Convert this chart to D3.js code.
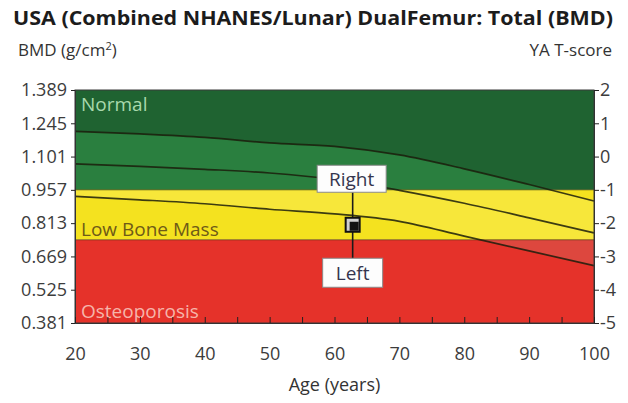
<!DOCTYPE html>
<html>
<head>
<meta charset="utf-8">
<script src="https://cdn.jsdelivr.net/npm/d3@7/dist/d3.min.js"></script>
<style>
  html, body { margin: 0; padding: 0; background: #fff; }
  svg { display: block; font-family: "Open Sans", "Noto Sans", sans-serif; }
</style>
</head>
<body>
<svg id="chart" width="628" height="403"></svg>
<script>
// Reference curves (BMD, g/cm²) by age: mean and ±1 SD
const ages       = [20, 30, 40, 50, 60, 70, 80, 90, 100];
const upperCurve = [1.210, 1.199, 1.184, 1.160, 1.145, 1.108, 1.048, 0.980, 0.909];
const meanCurve  = [1.069, 1.059, 1.046, 1.030, 1.002, 0.955, 0.899, 0.836, 0.771];
const lowerCurve = [0.929, 0.914, 0.897, 0.873, 0.853, 0.821, 0.757, 0.693, 0.629];

// Axis ticks
const bmdTicks = [1.389, 1.245, 1.101, 0.957, 0.813, 0.669, 0.525, 0.381];
const tScoreTicks = [2, 1, 0, -1, -2, -3, -4, -5];
const ageTicks = [20, 25, 30, 35, 40, 45, 50, 55, 60, 65, 70, 75, 80, 85, 90, 95, 100];

// Diagnostic zones in T-score units
const zoneNames  = ["Normal", "Low Bone Mass", "Osteoporosis"];
const zoneTopT   = [2, -1, -2.5];
const zoneBottomT = [-1, -2.5, -5];
const zoneFill   = ["#1f6331", "#f4e21f", "#e5322a"];
const zoneBand   = ["#2a7f3f", "#f7e73a", "#dd473e"];
const zoneText   = ["#a9d9ac", "#6e5a17", "#f6b5aa"];

// Measured point (mean of both femurs)
const pointAge = 62.8;
const pointBmd = 0.806;
const sideLabels = ["Right", "Left"];

const svg = d3.select("#chart");
const plot = { left: 75, right: 594, top: 90, bottom: 323 };

const x = d3.scaleLinear().domain([20, 100]).range([plot.left, plot.right]);
const y = d3.scaleLinear().domain([0.381, 1.389]).range([plot.bottom, plot.top]);
const yT = d3.scaleLinear().domain([-5, 2]).range([plot.bottom, plot.top]);

const defs = svg.append("defs");

// Zone backgrounds
const zoneG = svg.append("g");
zoneNames.forEach((name, i) => {
  zoneG.append("rect")
    .attr("x", plot.left)
    .attr("y", yT(zoneTopT[i]))
    .attr("width", plot.right - plot.left)
    .attr("height", yT(zoneBottomT[i]) - yT(zoneTopT[i]))
    .attr("fill", zoneFill[i]);
  defs.append("clipPath").attr("id", "zone" + i)
    .append("rect")
    .attr("x", plot.left)
    .attr("y", yT(zoneTopT[i]))
    .attr("width", plot.right - plot.left)
    .attr("height", yT(zoneBottomT[i]) - yT(zoneTopT[i]));
});

// ±1 SD band, tinted per zone
const rows = ages.map((a, i) => ({ age: a, up: upperCurve[i], mid: meanCurve[i], lo: lowerCurve[i] }));
const band = d3.area()
  .x(d => x(d.age))
  .y0(d => y(d.lo))
  .y1(d => y(d.up))
  .curve(d3.curveMonotoneX);
zoneNames.forEach((name, i) => {
  zoneG.append("path")
    .datum(rows)
    .attr("d", band)
    .attr("fill", zoneBand[i])
    .attr("clip-path", "url(#zone" + i + ")");
});

// Zone boundary hairlines
zoneG.selectAll("line.zb")
  .data([-1, -2.5])
  .join("line")
  .attr("x1", plot.left).attr("x2", plot.right)
  .attr("y1", d => yT(d)).attr("y2", d => yT(d))
  .attr("stroke", "#3a3a10").attr("stroke-opacity", 0.6).attr("stroke-width", 1);

// Reference curves
const curveLine = key => d3.line()
  .x(d => x(d.age))
  .y(d => y(d[key]))
  .curve(d3.curveMonotoneX);
["up", "mid", "lo"].forEach(k => {
  svg.append("path")
    .datum(rows)
    .attr("d", curveLine(k))
    .attr("fill", "none")
    .attr("stroke", "#1b1d0c")
    .attr("stroke-opacity", 0.85)
    .attr("stroke-width", 1.7);
});

// Zone labels
zoneNames.forEach((name, i) => {
  const yy = i === 0 ? yT(zoneTopT[i]) + 21 : (i === 1 ? yT(zoneBottomT[i]) - 4 : yT(zoneBottomT[i]) - 5);
  svg.append("text")
    .attr("x", plot.left + 6)
    .attr("y", yy)
    .attr("fill", zoneText[i])
    .attr("font-size", 19)
    .text(name);
});

// Frame
svg.append("rect")
  .attr("x", plot.left).attr("y", plot.top)
  .attr("width", plot.right - plot.left).attr("height", plot.bottom - plot.top)
  .attr("fill", "none").attr("stroke", "#3b3b3b").attr("stroke-width", 1);

// Axes
const axisText = "#3c3c3c";
const leftAxis = svg.append("g")
  .attr("transform", `translate(${plot.left},0)`)
  .call(d3.axisLeft(y).tickValues(bmdTicks).tickSize(4).tickPadding(4).tickFormat(d3.format(".3f")));
const rightAxis = svg.append("g")
  .attr("transform", `translate(${plot.right},0)`)
  .call(d3.axisRight(yT).tickValues(tScoreTicks).tickSize(5).tickPadding(1).tickFormat(d => d < 0 ? "-" + Math.abs(d) : String(d)));
const bottomAxis = svg.append("g")
  .attr("transform", `translate(0,${plot.bottom})`)
  .call(d3.axisBottom(x).tickValues(ageTicks).tickSize(-6).tickPadding(24)
    .tickFormat(d => d % 10 === 0 ? d : ""));
[leftAxis, rightAxis, bottomAxis].forEach(g => {
  g.select(".domain").attr("stroke", "#333");
  g.selectAll(".tick line").attr("stroke", "#222");
  g.selectAll(".tick text").attr("fill", axisText).attr("font-size", 18)
    .attr("font-family", "\"Open Sans\", sans-serif");
});

// Measured point with Right / Left labels
const px = x(pointAge), py = y(pointBmd);
const rightBox = { w: 69, h: 27, cy: py - 46 };
const leftBox  = { w: 60, h: 29, cy: py + 48 };
svg.append("line")
  .attr("x1", px).attr("x2", px)
  .attr("y1", rightBox.cy + rightBox.h / 2)
  .attr("y2", leftBox.cy - leftBox.h / 2)
  .attr("stroke", "#1a1a1a").attr("stroke-width", 1.6);
[rightBox, leftBox].forEach((b, i) => {
  svg.append("rect")
    .attr("x", px - b.w / 2 + (i === 0 ? -1 : 0)).attr("y", b.cy - b.h / 2)
    .attr("width", b.w).attr("height", b.h)
    .attr("fill", "#fdfdfd").attr("stroke", "#8a8a8a").attr("stroke-width", 1);
  svg.append("text")
    .attr("x", px + (i === 0 ? -1 : 0)).attr("y", b.cy)
    .attr("dy", "0.36em")
    .attr("text-anchor", "middle")
    .attr("fill", "#35354e")
    .attr("font-size", 19)
    .text(sideLabels[i]);
});
svg.append("rect")
  .attr("x", px - 7).attr("y", py - 7).attr("width", 14).attr("height", 14)
  .attr("fill", "#cfcfcf").attr("stroke", "#111").attr("stroke-width", 2);
svg.append("rect")
  .attr("x", px - 3).attr("y", py - 3).attr("width", 9).attr("height", 9)
  .attr("fill", "#111");

// Titles
svg.append("text")
  .attr("x", 13).attr("y", 25)
  .attr("font-size", 19).attr("font-weight", "bold").attr("fill", "#1c1c1c")
  .attr("textLength", 600).attr("lengthAdjust", "spacingAndGlyphs")
  .text("USA (Combined NHANES/Lunar) DualFemur: Total (BMD)");
const bmdLabel = svg.append("text")
  .attr("x", 18).attr("y", 56)
  .attr("font-size", 17).attr("fill", "#333");
bmdLabel.append("tspan").text("BMD (g/cm");
bmdLabel.append("tspan").attr("dy", -6).attr("font-size", 11).text("2");
bmdLabel.append("tspan").attr("dy", 6).text(")");
svg.append("text")
  .attr("x", 612).attr("y", 56)
  .attr("text-anchor", "end")
  .attr("font-size", 17).attr("fill", "#333")
  .text("YA T-score");
svg.append("text")
  .attr("x", x(60)).attr("y", 391)
  .attr("text-anchor", "middle")
  .attr("font-size", 18).attr("fill", "#333")
  .text("Age (years)");
</script>
</body>
</html>
